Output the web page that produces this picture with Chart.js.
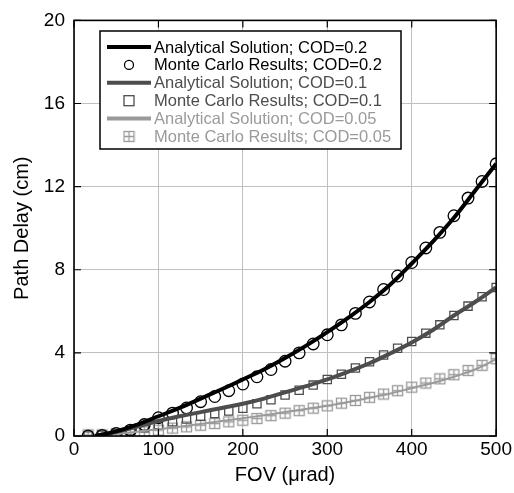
<!DOCTYPE html>
<html>
<head>
<meta charset="utf-8">
<script src="https://cdn.jsdelivr.net/npm/chart.js@4"></script>
<style>
  html, body { margin: 0; padding: 0; background: #fff; }
  #wrap { width: 514px; height: 493px; }
</style>
</head>
<body>
<div id="wrap"><canvas id="chart" width="514" height="493"></canvas></div>
<script>
// FOV values (urad) for the Monte Carlo samples and the analytical curves
const mcFov = [16.7, 33.3, 50, 66.7, 83.3, 100, 116.7, 133.3, 150, 166.7, 183.3, 200,
  216.7, 233.3, 250, 266.7, 283.3, 300, 316.7, 333.3, 350, 366.7, 383.3, 400,
  416.7, 433.3, 450, 466.7, 483.3, 500];
const lineFov = [25, 50, 75, 100, 125, 150, 175, 200, 225, 250, 275, 300, 325, 350,
  375, 400, 425, 450, 475, 500];

// path delay (cm)
const analytic02 = [0.0, 0.22, 0.55, 0.95, 1.35, 1.8, 2.25, 2.72, 3.2, 3.75, 4.35, 5.0,
  5.7, 6.45, 7.3, 8.3, 9.35, 10.5, 11.8, 13.1];
const monte02 = [0.0, 0.03, 0.12, 0.28, 0.55, 0.88, 1.1, 1.35, 1.65, 1.9, 2.18, 2.5,
  2.85, 3.2, 3.6, 4.0, 4.43, 4.87, 5.35, 5.9, 6.45, 7.05, 7.7, 8.35, 9.05, 9.8, 10.6,
  11.45, 12.25, 13.1];
const analytic01 = [0.0, 0.2, 0.45, 0.72, 0.95, 1.15, 1.35, 1.55, 1.8, 2.1, 2.4, 2.72,
  3.1, 3.5, 3.98, 4.5, 5.1, 5.8, 6.45, 7.15];
const monte01 = [0.0, 0.04, 0.12, 0.25, 0.4, 0.55, 0.68, 0.82, 0.95, 1.08, 1.2, 1.33,
  1.55, 1.74, 1.97, 2.2, 2.45, 2.72, 2.97, 3.27, 3.57, 3.9, 4.22, 4.55, 4.95, 5.35,
  5.8, 6.25, 6.7, 7.15];
const analytic005 = [0.0, 0.1, 0.2, 0.33, 0.45, 0.58, 0.72, 0.85, 1.0, 1.15, 1.3, 1.46,
  1.64, 1.84, 2.05, 2.3, 2.55, 2.85, 3.2, 3.7];
const monte005 = [0.05, 0.05, 0.1, 0.16, 0.2, 0.28, 0.38, 0.44, 0.52, 0.6, 0.68, 0.76,
  0.84, 0.98, 1.1, 1.22, 1.34, 1.45, 1.58, 1.71, 1.86, 2.02, 2.18, 2.35, 2.55, 2.75,
  2.95, 3.15, 3.4, 3.72];

const xTicks = [0, 100, 200, 300, 400, 500];
const yTicks = [0, 4, 8, 12, 16, 20];

const legendLabels = [
  'Analytical Solution; COD=0.2',
  'Monte Carlo Results; COD=0.2',
  'Analytical Solution; COD=0.1',
  'Monte Carlo Results; COD=0.1',
  'Analytical Solution; COD=0.05',
  'Monte Carlo Results; COD=0.05'
];

const FONT = '"Liberation Sans", Arial, sans-serif';
const BLACK = '#000000';
const DARK = '#4d4d4d';
const LIGHT = '#9a9a9a';

// white square with a cross inside, used for COD=0.05 Monte Carlo
function makeHatchSquare(color) {
  const c = document.createElement('canvas');
  c.width = 13; c.height = 13;
  const g = c.getContext('2d');
  g.fillStyle = '#fff';
  g.fillRect(1.5, 1.5, 10, 10);
  g.strokeStyle = color;
  g.lineWidth = 1.3;
  g.strokeRect(1.5, 1.5, 10, 10);
  g.beginPath();
  g.moveTo(6.5, 1.5); g.lineTo(6.5, 11.5);
  g.moveTo(1.5, 6.5); g.lineTo(11.5, 6.5);
  g.stroke();
  return c;
}
const hatch = makeHatchSquare(LIGHT);

function pts(xs, ys) {
  return xs.map((x, i) => ({ x: x, y: ys[i] }));
}

function lineSet(label, xs, ys, color, width) {
  return {
    label: label, data: pts(xs, ys), showLine: true, borderColor: color,
    borderWidth: width, pointRadius: 0, tension: 0.4, fill: false
  };
}
function markSet(label, xs, ys, color, style) {
  return {
    label: label, data: pts(xs, ys), showLine: false, borderColor: color,
    backgroundColor: 'rgba(0,0,0,0)', pointStyle: style, pointRadius: 5.8,
    pointBorderWidth: 1.3
  };
}

// legend drawn inside the plot frame
const boxLegend = {
  id: 'boxLegend',
  afterDraw(chart) {
    const ctx = chart.ctx;
    const x0 = 100, y0 = 31, w = 301, h = 118;
    ctx.save();
    ctx.fillStyle = '#fff';
    ctx.fillRect(x0, y0, w, h);
    ctx.strokeStyle = '#000';
    ctx.lineWidth = 1.5;
    ctx.strokeRect(x0, y0, w, h);
    const colors = [BLACK, BLACK, DARK, DARK, LIGHT, LIGHT];
    ctx.font = '16.5px ' + FONT;
    ctx.textBaseline = 'middle';
    legendLabels.forEach((txt, i) => {
      const cy = y0 + 16 + i * 17.9;
      const col = colors[i];
      if (i % 2 === 0) {
        ctx.strokeStyle = col;
        ctx.lineWidth = 4;
        ctx.beginPath();
        ctx.moveTo(107, cy); ctx.lineTo(151, cy);
        ctx.stroke();
      } else {
        ctx.strokeStyle = col;
        ctx.lineWidth = 1.3;
        if (i === 1) {
          ctx.beginPath(); ctx.arc(129, cy, 4.5, 0, Math.PI * 2); ctx.stroke();
        } else if (i === 3) {
          ctx.strokeRect(124, cy - 5, 10, 10);
        } else {
          ctx.drawImage(hatch, 122.5, cy - 6.5);
        }
      }
      ctx.fillStyle = col;
      ctx.fillText(txt, 154, cy + 1);
    });
    ctx.restore();
  }
};

// dark frame plus short inward tick marks
const frame = {
  id: 'frame',
  afterDatasetsDraw(chart) {
    const a = chart.chartArea, ctx = chart.ctx;
    const xs = chart.scales.x, ys = chart.scales.y;
    ctx.save();
    ctx.strokeStyle = '#000';
    ctx.lineWidth = 1.6;
    ctx.strokeRect(a.left, a.top, a.right - a.left, a.bottom - a.top);
    ctx.lineWidth = 1.2;
    ctx.beginPath();
    xTicks.forEach(v => {
      const px = xs.getPixelForValue(v);
      ctx.moveTo(px, a.bottom); ctx.lineTo(px, a.bottom - 7);
      ctx.moveTo(px, a.top); ctx.lineTo(px, a.top + 7);
    });
    yTicks.forEach(v => {
      const py = ys.getPixelForValue(v);
      ctx.moveTo(a.left, py); ctx.lineTo(a.left + 7, py);
      ctx.moveTo(a.right, py); ctx.lineTo(a.right - 7, py);
    });
    ctx.stroke();
    ctx.restore();
  }
};

new Chart(document.getElementById('chart'), {
  type: 'scatter',
  data: {
    datasets: [
      lineSet(legendLabels[0], lineFov, analytic02, BLACK, 4),
      lineSet(legendLabels[2], lineFov, analytic01, DARK, 4),
      lineSet(legendLabels[4], lineFov, analytic005, LIGHT, 2),
      markSet(legendLabels[1], mcFov, monte02, BLACK, 'circle'),
      markSet(legendLabels[3], mcFov, monte01, DARK, 'rect'),
      markSet(legendLabels[5], mcFov, monte005, LIGHT, hatch)
    ]
  },
  options: {
    responsive: false,
    animation: false,
    layout: { padding: { top: 15, right: 16, left: 0, bottom: 0 } },
    plugins: { legend: { display: false }, tooltip: { enabled: false } },
    scales: {
      x: {
        type: 'linear', min: 0, max: 500,
        afterBuildTicks: s => { s.ticks = xTicks.map(v => ({ value: v })); },
        grid: { color: '#c0c0c0', lineWidth: 1, drawTicks: false },
        border: { display: false },
        ticks: { color: '#000', font: { family: FONT, size: 19 }, padding: 2, maxRotation: 0 },
        title: { display: true, text: 'FOV (\u03bcrad)', color: '#000', font: { family: FONT, size: 20 }, padding: { top: 0, bottom: 6 } },
        afterFit: s => { s.height = 57; }
      },
      y: {
        type: 'linear', min: 0, max: 20,
        afterBuildTicks: s => { s.ticks = yTicks.map(v => ({ value: v })); },
        grid: { color: '#c0c0c0', lineWidth: 1, drawTicks: false },
        border: { display: false },
        ticks: { color: '#000', font: { family: FONT, size: 19 }, padding: 9 },
        title: { display: true, text: 'Path Delay (cm)', color: '#000', font: { family: FONT, size: 20 }, padding: { top: 10, bottom: 0 } },
        afterFit: s => { s.width = 74; }
      }
    }
  },
  plugins: [frame, boxLegend]
});
</script>
</body>
</html>
